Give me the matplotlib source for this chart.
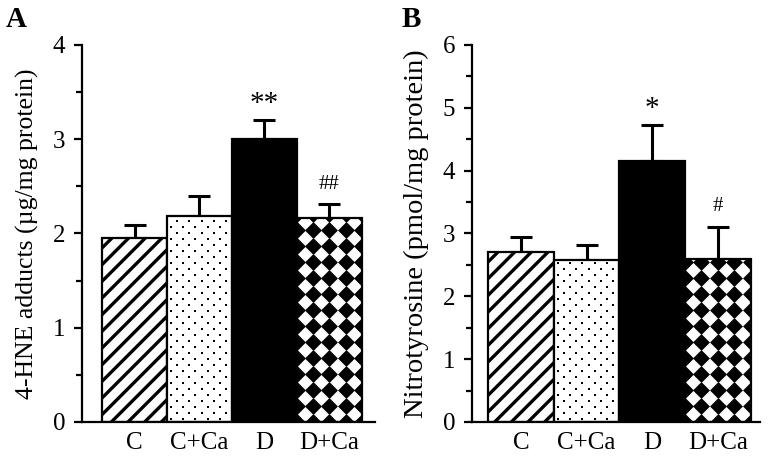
import numpy as np
import matplotlib
matplotlib.use('Agg')
import matplotlib.pyplot as plt
from matplotlib.ticker import MultipleLocator

plt.rcParams['font.family'] = ['Liberation Serif', 'DejaVu Serif']
plt.rcParams['hatch.linewidth'] = 2.4
plt.rcParams['hatch.color'] = 'black'

groups = ['C', 'C+Ca', 'D', 'D+Ca']

hne_mean = [1.95, 2.19, 3.00, 2.16]
hne_sem = [0.14, 0.21, 0.20, 0.15]
hne_marks = ['', '', '**', '##']

nitro_mean = [2.71, 2.58, 4.16, 2.60]
nitro_sem = [0.23, 0.24, 0.56, 0.51]
nitro_marks = ['', '', '*', '#']

fig = plt.figure(figsize=(7.7, 4.62), dpi=100)
axA = fig.add_axes([0.1065, 0.0866, 0.381, 0.816])
axB = fig.add_axes([0.6126, 0.0866, 0.375, 0.816])


def pattern_fill(ax, bar, px_per_unit, kind):
    # draw the bar's texture as small markers clipped to the bar
    x0 = bar.get_x()
    w = bar.get_width()
    h = bar.get_height()
    px_x = w / 64.0  # data units per pixel along x
    if kind == 'diamond':
        step_x = w / 4.0
        step_y = 16.0 / px_per_unit
        xs = x0 + step_x * np.arange(5)
        ys = np.arange(0, h + step_y, step_y)
        gx, gy = np.meshgrid(xs, ys)
        gx, gy = gx.ravel(), gy.ravel()
        sc = ax.scatter(gx, gy, marker='D', s=74, color='black',
                        linewidths=0, zorder=2.5)
    else:
        step_x = 12.0 * px_x
        step_y = 6.0 / px_per_unit
        ys = np.arange(step_y / 2, h, step_y)
        gx, gy = [], []
        for k, yv in enumerate(ys):
            start = x0 + (4.0 if k % 2 == 0 else 10.0) * px_x
            for xv in np.arange(start, x0 + w, step_x):
                gx.append(xv)
                gy.append(yv)
        sc = ax.scatter(gx, gy, marker='s', s=2.2, color='black',
                        linewidths=0, zorder=2.5)
    sc.set_clip_path(bar)


def panel(ax, means, sems, marks, ymax, xlim, ylabel, label_fs, letter, letter_x):
    x = np.arange(len(groups))
    styles = [dict(facecolor='white', hatch='//'),
              dict(facecolor='white'),
              dict(facecolor='black'),
              dict(facecolor='white')]
    bars = []
    for i in range(len(groups)):
        b = ax.bar(x[i], means[i], width=1.0, edgecolor='black', linewidth=1.6,
                   zorder=2, **styles[i])[0]
        bars.append(b)
    ax.errorbar(x, means, yerr=[np.zeros(len(x)), sems], fmt='none',
                ecolor='black', elinewidth=2.2, capsize=8, capthick=2.2, zorder=1)
    ax.set_xlim(*xlim)
    ax.set_ylim(0, ymax)
    px_per_unit = 0.816 * 462 / ymax
    pattern_fill(ax, bars[1], px_per_unit, 'dots')
    pattern_fill(ax, bars[3], px_per_unit, 'diamond')
    for i, m in enumerate(marks):
        if m:
            top = means[i] + sems[i]
            if m.startswith('*'):
                fs, off = 21, 7
            else:
                fs, off = 15, 11
            ax.annotate(m, xy=(x[i], top), xytext=(0, off),
                        textcoords='offset points', ha='center', va='baseline',
                        fontsize=fs)
    ax.spines['top'].set_visible(False)
    ax.spines['right'].set_visible(False)
    ax.spines['left'].set_linewidth(1.6)
    ax.spines['bottom'].set_linewidth(1.6)
    ax.set_xticks(x)
    ax.set_xticklabels(groups, fontsize=18)
    ax.tick_params(axis='x', length=0, pad=7)
    ax.yaxis.set_major_locator(MultipleLocator(1))
    ax.yaxis.set_minor_locator(MultipleLocator(0.5))
    ax.tick_params(axis='y', which='major', length=6, width=1.6, labelsize=18, pad=6)
    ax.tick_params(axis='y', which='minor', length=4, width=1.6)
    ax.set_ylabel(ylabel, fontsize=label_fs, labelpad=10)
    fig.text(letter_x, 0.958, letter, fontsize=21, fontweight='bold',
             ha='left', va='center')


panel(axA, hne_mean, hne_sem, hne_marks, 4, (-0.81, 3.71),
      '4-HNE adducts (\u00b5g/mg protein)', 18.5, 'A', 0.008)
panel(axB, nitro_mean, nitro_sem, nitro_marks, 6, (-0.75, 3.65),
      'Nitrotyrosine (pmol/mg protein)', 20.5, 'B', 0.522)

fig.savefig('out.png', dpi=100)
